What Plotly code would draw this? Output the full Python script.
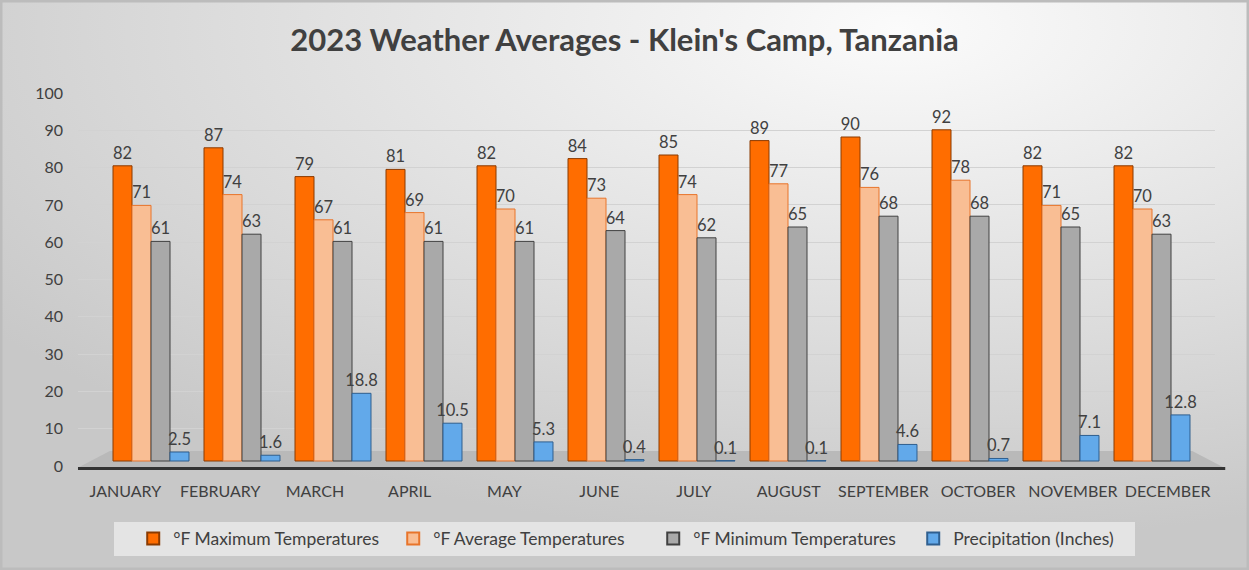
import base64
import plotly.graph_objects as go

# 2023 monthly weather averages, Klein's Camp
months = ["JANUARY", "FEBRUARY", "MARCH", "APRIL", "MAY", "JUNE", "JULY",
          "AUGUST", "SEPTEMBER", "OCTOBER", "NOVEMBER", "DECEMBER"]
max_temp = [82, 87, 79, 81, 82, 84, 85, 89, 90, 92, 82, 82]
avg_temp = [71, 74, 67, 69, 70, 73, 74, 77, 76, 78, 71, 70]
min_temp = [61, 63, 61, 61, 61, 64, 62, 65, 68, 68, 65, 63]
precip = [2.5, 1.6, 18.8, 10.5, 5.3, 0.4, 0.1, 0.1, 4.6, 0.7, 7.1, 12.8]

series = [
    ("°F Maximum Temperatures", max_temp, "#FF6D00", "#8A3A00", "{:.0f}"),
    ("°F Average Temperatures", avg_temp, "#F9BE94", "#E8742A", "{:.0f}"),
    ("°F Minimum Temperatures", min_temp, "#A9A9A9", "#404040", "{:.0f}"),
    ("Precipitation (Inches)", precip, "#62A9EA", "#2F5F8F", "{:.1f}"),
]

FONT = "Lato, 'Open Sans', sans-serif"
TXT = "#404040"
W, H = 1249, 570
ML, MR, MT, MB = 78, 34, 93, 104
PW, PH = W - ML - MR, H - MT - MB

# soft radial grey background like the Excel chart style
svg = f"""<svg xmlns='http://www.w3.org/2000/svg' width='{W}' height='{H}'>
<defs><radialGradient id='g' cx='0.72' cy='0.05' r='0.9'>
<stop offset='0' stop-color='#fbfbfb'/><stop offset='1' stop-color='#c8c8c8'/>
</radialGradient></defs><rect width='{W}' height='{H}' fill='url(#g)'
stroke='#bcbcbc' stroke-width='5'/></svg>"""
bg_uri = "data:image/svg+xml;base64," + base64.b64encode(svg.encode()).decode()

fig = go.Figure()
for name, vals, color, edge, fmt in series:
    fig.add_trace(go.Bar(
        name=name, x=months, y=vals, xaxis="x", yaxis="y",
        marker=dict(color=color, line=dict(color=edge, width=1)),
        text=[fmt.format(v) for v in vals], textposition="outside",
        textfont=dict(size=16.5, color=TXT, family=FONT),
        constraintext="none", cliponaxis=False,
    ))

# invisible carrier for the front-edge month labels / value grid (3D look:
# bars sit slightly back and lower than the labelled axes)
fig.add_trace(go.Scatter(x=months, y=max_temp, xaxis="x2", yaxis="y2",
                         mode="none", showlegend=False, hoverinfo="skip"))

# bar axes: category pitch ~91px starting at x=151, zero at y=461, 3.6px/unit
bar_pitch, first_center = 91, 151
x0 = -(first_center - ML) / bar_pitch
x1 = x0 + PW / bar_pitch
y_unit, y_zero = 3.6, 461
yr0 = -((MT + PH) - y_zero) / y_unit
yr1 = (y_zero - MT) / y_unit

fig.update_layout(
    width=W, height=H,
    margin=dict(l=ML, r=MR, t=MT, b=MB, autoexpand=False),
    paper_bgcolor="#dcdcdc", plot_bgcolor="rgba(0,0,0,0)",
    font=dict(family=FONT, color=TXT, size=16),
    title=dict(text="<b>2023 Weather Averages - Klein's Camp, Tanzania</b>",
               x=0.5, xanchor="center", y=0.93, yanchor="middle",
               font=dict(size=31, color=TXT, family=FONT)),
    barmode="group", bargap=0.165, bargroupgap=0,
    xaxis=dict(range=[x0, x1], showgrid=False, showticklabels=False,
               ticks="", showline=False, zeroline=False, automargin=False),
    yaxis=dict(range=[yr0, yr1], showgrid=False, showticklabels=False,
               ticks="", showline=False, zeroline=False, automargin=False),
    xaxis2=dict(overlaying="x", side="bottom", range=[-0.5, 11.5],
                showgrid=False, tickfont=dict(size=16, color=TXT), ticks="",
                showline=False, ticklabelstandoff=14, automargin=False),
    yaxis2=dict(overlaying="y", side="left", range=[0, 100], dtick=10,
                gridcolor="#d2d2d2", gridwidth=1, zeroline=False,
                showline=False, ticks="", ticklabelstandoff=14,
                tickfont=dict(size=16, color=TXT), automargin=False),
    legend=dict(orientation="h", xref="container", x=0.523, xanchor="center",
                yref="container", y=0.055, yanchor="middle",
                bgcolor="rgba(0,0,0,0)", entrywidth=215, itemsizing="constant",
                font=dict(size=17.5, color=TXT), traceorder="normal"),
    images=[dict(source=bg_uri, xref="paper", yref="paper",
                 x=-ML / PW, y=1 + MT / PH, sizex=W / PW, sizey=H / PH,
                 xanchor="left", yanchor="top", sizing="stretch", layer="below")],
    shapes=[
        # 3D floor
        dict(type="path", xref="paper", yref="paper",
             path="M -0.001,-0.006 L 1.009,-0.006 L 0.98,0.04 L 0.028,0.04 Z",
             fillcolor="#b9b9b9", line=dict(width=0), layer="below"),
        dict(type="line", xref="paper", yref="paper", x0=0, x1=1.009,
             y0=-0.007, y1=-0.007, line=dict(color="#333333", width=3)),
        # legend box
        dict(type="rect", xref="paper", yref="paper",
             x0=(114 - ML) / PW, x1=(1135 - ML) / PW,
             y0=-(556 - (H - MB)) / PH, y1=-(522 - (H - MB)) / PH,
             fillcolor="#e4e4e4", line=dict(width=0), layer="below"),
    ],
)

# page margin would push the chart 8px off the window
fig.write_html("out.html", config={"displayModeBar": False},
               post_script="document.body.style.margin='0';")
